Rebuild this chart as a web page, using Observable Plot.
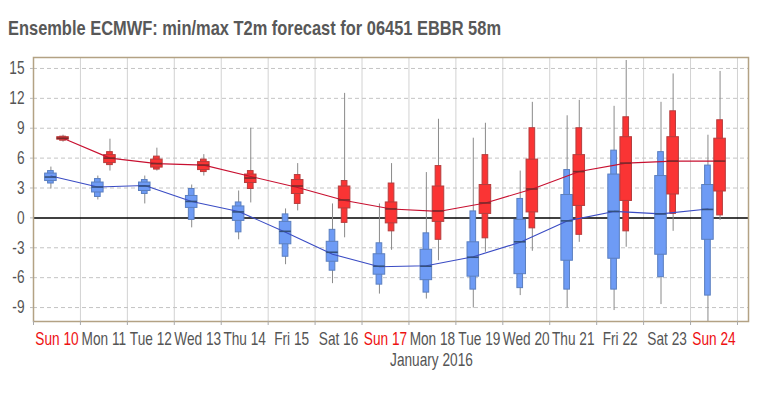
<!DOCTYPE html>
<html><head><meta charset="utf-8">
<script src="https://cdn.jsdelivr.net/npm/d3@7"></script>
<script src="https://cdn.jsdelivr.net/npm/@observablehq/plot@0.6"></script>
<style>
body{margin:0;background:#fff;width:779px;height:399px;overflow:hidden;font-family:"Liberation Sans",Arial,sans-serif}
#title{position:relative;height:45px}
#title span{position:absolute;left:8px;top:17px;font-weight:bold;font-size:21px;line-height:21px;color:#585858;white-space:nowrap;transform-origin:0 0}
</style></head><body>
<div id="title"><span id="tt">Ensemble ECMWF: min/max T2m forecast for 06451 EBBR 58m</span></div>
<div id="chart"></div>
<script>
const dates = ["2016-01-10","2016-01-11","2016-01-12","2016-01-13","2016-01-14","2016-01-15","2016-01-16","2016-01-17","2016-01-18","2016-01-19","2016-01-20","2016-01-21","2016-01-22","2016-01-23","2016-01-24"];
const dayLabels = ["Sun 10","Mon 11","Tue 12","Wed 13","Thu 14","Fri 15","Sat 16","Sun 17","Mon 18","Tue 19","Wed 20","Thu 21","Fri 22","Sat 23","Sun 24"];
const sundays = ["Sun 10","Sun 17","Sun 24"];
const monthLabel = "January 2016";

// Minimum temperature ensemble (blue)
const minLow  = [2.9, 1.8, 1.4, -1.0, -2.2, -4.7, -6.6, -7.65, -8.15, -9.05, -7.8, -9.05, -9.3, -8.7, -10.6];
const minP10  = [3.45, 2.1, 2.4, -0.2, -1.45, -3.9, -5.3, -6.7, -7.5, -7.2, -7.05, -7.2, -7.2, -5.95, -7.8];
const minP25  = [3.7, 2.55, 2.7, 1.0, -0.3, -2.65, -4.4, -5.7, -6.25, -5.9, -5.65, -4.3, -4.1, -3.7, -2.2];
const minMed  = [4.1, 3.1, 3.2, 1.65, 0.6, -1.35, -3.45, -4.85, -4.85, -3.95, -2.4, -0.3, 0.65, 0.4, 0.85];
const minP75  = [4.45, 3.55, 3.55, 2.2, 1.15, -0.4, -2.4, -3.65, -3.2, -2.45, -0.2, 2.3, 4.35, 4.2, 3.3];
const minP90  = [4.7, 3.9, 3.8, 2.9, 1.55, 0.35, -1.2, -2.55, -1.55, 0.65, 1.9, 4.8, 6.75, 6.6, 5.25];
const minHigh = [5.1, 4.2, 4.2, 3.3, 2.7, 0.9, 1.4, 1.4, 4.55, 8.0, 4.7, 10.25, 11.2, 11.6, 8.3];
const minLine = [4.2, 3.1, 3.25, 1.65, 0.65, -1.45, -3.65, -4.9, -4.8, -3.9, -2.45, -0.3, 0.65, 0.4, 0.9];

// Maximum temperature ensemble (red)
const maxLow  = [7.6, 4.7, 4.7, 4.2, 1.5, 0.7, -2.0, -3.25, -4.3, -3.45, -3.35, -2.45, -2.95, -1.35, -0.25];
const maxP10  = [7.75, 5.3, 4.85, 4.6, 2.9, 1.4, -0.5, -1.35, -2.2, -2.05, -1.05, -1.7, -1.35, 0.4, 0.25];
const maxP25  = [7.85, 5.5, 5.05, 4.8, 3.5, 2.4, 0.95, -0.55, -0.4, 0.4, 0.55, 1.2, 1.7, 2.35, 2.65];
const maxMed  = [8.0, 6.0, 5.45, 5.3, 4.0, 3.2, 1.8, 0.9, 0.7, 1.5, 2.9, 4.65, 5.5, 5.7, 5.7];
const maxP75  = [8.1, 6.3, 5.85, 5.6, 4.35, 3.8, 3.15, 1.55, 3.15, 3.3, 5.85, 6.3, 8.1, 8.1, 7.95];
const maxP90  = [8.15, 6.6, 6.15, 5.85, 4.7, 4.3, 3.7, 3.45, 5.2, 6.3, 9.0, 9.0, 10.1, 10.7, 9.8];
const maxHigh = [8.3, 7.9, 7.0, 6.35, 9.0, 5.45, 12.5, 5.45, 9.9, 9.5, 11.6, 11.8, 15.8, 14.45, 14.7];
const maxLine = [8.0, 6.0, 5.45, 5.3, 4.15, 3.05, 1.75, 0.9, 0.65, 1.5, 2.9, 4.65, 5.5, 5.7, 5.7];

const yTicks = [-9, -6, -3, 0, 3, 6, 9, 12, 15];

// ---- layout / style config ----
const H = 3600e3;
const minHour = 8.9, maxHour = 15.1;
const outerHalf = 1.45 * H, innerHalf = 2.95 * H;
const blueFill = "#6e9bf5", blueEdge = "#5b7fbf", blueMed = "#34507e";
const redFill = "#fa3434", redEdge = "#b53d3d", redMed = "#7a2b2b";
const grey = "#555";

const rows = dates.map((d, i) => {
  const t = Date.parse(d + "T00:00:00Z");
  return {
    t, label: dayLabels[i],
    xMin: t + minHour * H, xMax: t + maxHour * H, noon: t + 12 * H,
    minLow: minLow[i], minP10: minP10[i], minP25: minP25[i], minMed: minMed[i], minP75: minP75[i], minP90: minP90[i], minHigh: minHigh[i], minLine: minLine[i],
    maxLow: maxLow[i], maxP10: maxP10[i], maxP25: maxP25[i], maxMed: maxMed[i], maxP75: maxP75[i], maxP90: maxP90[i], maxHigh: maxHigh[i], maxLine: maxLine[i]
  };
});
const start = Date.parse(dates[0] + "T00:00:00Z");
const midnights = d3.utcDay.range(new Date(start), new Date(start + 16 * 24 * H));
const xEnd = start + 15.235 * 24 * H;
const monthX = start + 8.48 * 24 * H;

const chart = Plot.plot({
  width: 779, height: 354,
  marginLeft: 33, marginRight: 31, marginTop: 12, marginBottom: 78,
  x: {type: "utc", domain: [new Date(start), new Date(xEnd)], axis: null},
  y: {domain: [-10.4, 16.1], axis: null},
  style: {fontSize: "18px", fontFamily: "'Liberation Sans', Arial, sans-serif", color: grey, background: "#fff", overflow: "visible"},
  marks: [
    Plot.ruleX(midnights, {stroke: "#d2d2d2", strokeWidth: 1}),
    Plot.ruleY(yTicks.filter(v => v !== 0), {stroke: "#c4c4c4", strokeDasharray: "4,3", strokeWidth: 1}),
    Plot.ruleY([0], {stroke: "#000", strokeWidth: 1.5}),
    // whiskers
    Plot.ruleX(rows, {x: "xMin", y1: "minLow", y2: "minHigh", stroke: "#8a8a8a", strokeWidth: 1, clip: true}),
    Plot.ruleX(rows, {x: "xMax", y1: "maxLow", y2: "maxHigh", stroke: "#8a8a8a", strokeWidth: 1, clip: true}),
    // outer (10-90%) boxes
    Plot.rect(rows, {x1: d => d.xMin - outerHalf, x2: d => d.xMin + outerHalf, y1: "minP10", y2: "minP90", fill: blueFill, stroke: blueEdge, strokeWidth: 1}),
    Plot.rect(rows, {x1: d => d.xMax - outerHalf, x2: d => d.xMax + outerHalf, y1: "maxP10", y2: "maxP90", fill: redFill, stroke: redEdge, strokeWidth: 1}),
    // inner (25-75%) boxes
    Plot.rect(rows, {x1: d => d.xMin - innerHalf, x2: d => d.xMin + innerHalf, y1: "minP25", y2: "minP75", fill: blueFill, stroke: blueEdge, strokeWidth: 1}),
    Plot.rect(rows, {x1: d => d.xMax - innerHalf, x2: d => d.xMax + innerHalf, y1: "maxP25", y2: "maxP75", fill: redFill, stroke: redEdge, strokeWidth: 1}),
    // forecast lines
    Plot.line(rows, {x: "xMin", y: "minLine", stroke: "#3a4cc4", strokeWidth: 1.1}),
    Plot.line(rows, {x: "xMax", y: "maxLine", stroke: "#c81030", strokeWidth: 1.1}),
    // medians
    Plot.ruleY(rows, {y: "minMed", x1: d => d.xMin - innerHalf, x2: d => d.xMin + innerHalf, stroke: blueMed, strokeWidth: 1.6}),
    Plot.ruleY(rows, {y: "maxMed", x1: d => d.xMax - innerHalf, x2: d => d.xMax + innerHalf, stroke: redMed, strokeWidth: 1.6}),
    Plot.frame({stroke: "#b3a284", strokeWidth: 1.5}),
    // axes
    Plot.axisY(yTicks, {tickSize: 3, tickPadding: 6, tickFormat: d => String(d), stroke: "#bbb", fill: grey, label: null}),
    Plot.axisX(midnights, {tickSize: 4, tickFormat: () => "", stroke: "#aaa", label: null}),
    Plot.text(rows, {x: "noon", frameAnchor: "bottom", dy: 23, text: "label", fill: d => sundays.includes(d.label) ? "#ee1111" : grey}),
    Plot.text([monthLabel], {x: () => monthX, frameAnchor: "bottom", dy: 44, text: d => d, fill: grey})
  ]
});

// horizontally condense the text like the reference
const S = 0.76;
chart.querySelectorAll("text").forEach(t => {
  const tr = t.getAttribute("transform");
  if (tr) t.setAttribute("transform", tr + ` scale(${S},1)`);
  else {
    const x = +(t.getAttribute("x") || 0);
    t.setAttribute("transform", `translate(${x},0) scale(${S},1) translate(${-x},0)`);
  }
});
document.getElementById("chart").appendChild(chart);

const tt = document.getElementById("tt");
const w = tt.getBoundingClientRect().width;
tt.style.transform = `scaleX(${493 / w})`;
</script>
</body></html>
